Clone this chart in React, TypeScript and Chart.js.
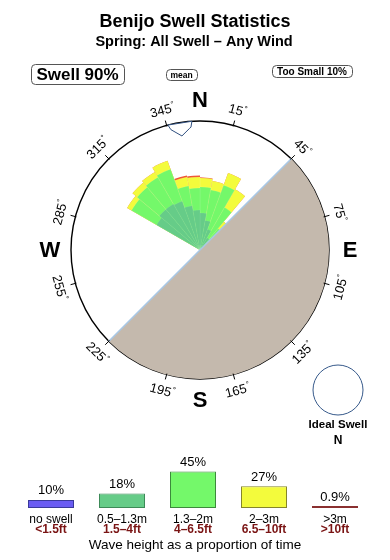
import React, { useEffect, useRef } from 'react';
import { Chart, registerables } from 'chart.js';

Chart.register(...registerables);

const FONT = '"Liberation Sans", Arial, Helvetica, sans-serif';

// ---- Swell rose data (10° direction bins, bin start in degrees clockwise from N) ----
const binStarts = [300, 310, 320, 330, 340, 350, 0, 10, 20, 30, 40];
const h05to13 = [38.8, 41.1, 41.1, 40.3, 34.9, 31.0, 28.7, 23.3, 17.1, 10.9, 6.2];
const h13to2 = [22.5, 22.5, 24.0, 26.4, 15.5, 17.1, 20.2, 24.0, 36.4, 27.1, 15.5];
const h2to3 = [3.9, 4.7, 4.7, 7.0, 7.0, 8.5, 7.0, 7.0, 10.1, 16.3, 7.0];
const hOver3 = [0, 0, 0, 0, 1.2, 1.2, 0.4, 0, 0, 0, 0];
const roseMax = 100;
const landFrom = 45;
const landTo = 225;
const meanDir = 351;
const degreeTicks = [15, 45, 75, 105, 135, 165, 195, 225, 255, 285, 315, 345];
const compassLabels = ['N', 'E', 'S', 'W'];
const compassDirs = [0, 90, 180, 270];

// ---- Wave height legend ----
const classLabels = ['no swell', '0.5–1.3m', '1.3–2m', '2–3m', '>3m'];
const classFeet = ['<1.5ft', '1.5–4ft', '4–6.5ft', '6.5–10ft', '>10ft'];
const classPct = [10, 18, 45, 27, 0.9];
const classPctText = ['10%', '18%', '45%', '27%', '0.9%'];

const title = 'Benijo Swell Statistics';
const subtitle = 'Spring: All Swell – Any Wind';
const swellText = 'Swell 90%';
const tooSmallText = 'Too Small 10%';

const BIN_COUNT = 36;
const series = [h05to13, h13to2, h2to3, hOver3];

function cumulative(level: number): number[] {
  const arr = new Array(BIN_COUNT).fill(0);
  binStarts.forEach((b, i) => {
    let s = 0;
    for (let j = 0; j <= level; j++) s += series[j][i];
    arr[Math.round(b / 10) % BIN_COUNT] = s;
  });
  return arr;
}

const landData = [0, roseMax, 0];
const landAngles = [landFrom, landTo - landFrom, 360 - landTo];

const roseDecor = {
  id: 'roseDecor',
  afterDatasetsDraw(chart: any) {
    const r = chart.scales.r;
    const ctx = chart.ctx;
    const cx = r.xCenter, cy = r.yCenter, R = r.drawingArea;
    const pt = (deg: number, rad: number) => {
      const a = ((deg - 90) * Math.PI) / 180;
      return [cx + rad * Math.cos(a), cy + rad * Math.sin(a)];
    };
    ctx.save();
    // coastline
    ctx.strokeStyle = '#a8c8e6';
    ctx.lineWidth = 1.5;
    const p1 = pt(landFrom, R), p2 = pt(landTo, R);
    ctx.beginPath();
    ctx.moveTo(p1[0], p1[1]);
    ctx.lineTo(p2[0], p2[1]);
    ctx.stroke();
    // mean direction arrow
    const shape = [[-5.4, 1.0], [-4.6, 0.96], [0, 0.895], [4.0, 0.945], [4.8, 0.955], [5.4, 1.0]];
    ctx.beginPath();
    shape.forEach(([da, f], i) => {
      const p = pt(meanDir + da, R * f);
      if (i === 0) ctx.moveTo(p[0], p[1]);
      else ctx.lineTo(p[0], p[1]);
    });
    ctx.closePath();
    ctx.fillStyle = '#ffffff';
    ctx.fill();
    ctx.strokeStyle = '#2f4f7f';
    ctx.lineWidth = 1;
    ctx.stroke();
    ctx.restore();
  },
  afterDraw(chart: any) {
    const r = chart.scales.r;
    const ctx = chart.ctx;
    const cx = r.xCenter, cy = r.yCenter, R = r.drawingArea;
    const W = chart.width;
    const pt = (deg: number, rad: number) => {
      const a = ((deg - 90) * Math.PI) / 180;
      return [cx + rad * Math.cos(a), cy + rad * Math.sin(a)];
    };
    ctx.save();
    // tick marks
    ctx.strokeStyle = '#000';
    ctx.lineWidth = 1;
    degreeTicks.forEach((d) => {
      const a = pt(d, R - 1), b = pt(d, R + 5);
      ctx.beginPath();
      ctx.moveTo(a[0], a[1]);
      ctx.lineTo(b[0], b[1]);
      ctx.stroke();
    });
    // degree labels
    ctx.fillStyle = '#000';
    degreeTicks.forEach((d) => {
      const p = pt(d, R + 16);
      const rot = (((d + 90) % 180) - 90) * Math.PI / 180;
      ctx.save();
      ctx.translate(p[0], p[1]);
      ctx.rotate(rot);
      ctx.font = `13px ${FONT}`;
      const txt = String(d);
      const w = ctx.measureText(txt).width;
      const total = w + 3.5;
      ctx.textAlign = 'left';
      ctx.textBaseline = 'alphabetic';
      ctx.fillText(txt, -total / 2, 4.6);
      ctx.font = `8px ${FONT}`;
      ctx.fillText('°', -total / 2 + w + 0.5, -0.5);
      ctx.restore();
    });
    // compass letters
    ctx.font = `bold 22px ${FONT}`;
    ctx.textAlign = 'center';
    ctx.textBaseline = 'middle';
    compassLabels.forEach((l, i) => {
      const p = pt(compassDirs[i], R + 21);
      ctx.fillText(l, p[0], p[1] + 1);
    });
    // titles
    ctx.textBaseline = 'alphabetic';
    ctx.font = `bold 18px ${FONT}`;
    ctx.fillText(title, W / 2, 26.5);
    ctx.font = `bold 14.5px ${FONT}`;
    ctx.fillText(subtitle, W / 2 - 1, 46);
    // boxes
    const box = (x: number, y: number, w: number, h: number, rad: number) => {
      ctx.beginPath();
      ctx.roundRect(x + 0.5, y + 0.5, w, h, rad);
      ctx.fillStyle = '#fff';
      ctx.fill();
      ctx.strokeStyle = '#555';
      ctx.lineWidth = 1;
      ctx.stroke();
      ctx.fillStyle = '#000';
    };
    box(31, 64, 93, 20, 4);
    ctx.font = `bold 17px ${FONT}`;
    ctx.fillText(swellText, 77.5, 80);
    box(166, 69, 31, 11, 4);
    ctx.font = `bold 8.5px ${FONT}`;
    ctx.fillText('mean', 181.5, 78);
    box(272, 65, 80, 12, 4);
    ctx.font = `bold 10px ${FONT}`;
    ctx.fillText(tooSmallText, 312, 75);
    // ideal swell
    ctx.beginPath();
    ctx.arc(338, 390, 25, 0, Math.PI * 2);
    ctx.strokeStyle = '#36598a';
    ctx.lineWidth = 1;
    ctx.stroke();
    ctx.font = `bold 11.5px ${FONT}`;
    ctx.fillText('Ideal Swell', 338, 428);
    ctx.font = `bold 12px ${FONT}`;
    ctx.fillText('N', 338, 443.5);
    ctx.restore();
  },
};

const legendText = {
  id: 'legendText',
  afterDraw(chart: any) {
    const ctx = chart.ctx;
    const meta = chart.getDatasetMeta(0);
    const base = chart.scales.y.getPixelForValue(0);
    ctx.save();
    ctx.textAlign = 'center';
    ctx.textBaseline = 'alphabetic';
    meta.data.forEach((bar: any, i: number) => {
      ctx.fillStyle = '#000';
      ctx.font = `13px ${FONT}`;
      ctx.fillText(classPctText[i], bar.x, bar.y - 5.5);
      ctx.font = `12px ${FONT}`;
      ctx.fillText(classLabels[i], bar.x, base + 14.5);
      ctx.fillStyle = '#7a1414';
      ctx.font = `bold 12px ${FONT}`;
      ctx.fillText(classFeet[i], bar.x, base + 25);
    });
    ctx.fillStyle = '#000';
    ctx.font = `13.5px ${FONT}`;
    ctx.fillText('Wave height as a proportion of time', chart.width / 2, base + 41);
    ctx.restore();
  },
};

export default function App() {
  const roseRef = useRef<HTMLCanvasElement | null>(null);
  const barRef = useRef<HTMLCanvasElement | null>(null);

  useEffect(() => {
    const rose = new Chart(roseRef.current as HTMLCanvasElement, {
      type: 'polarArea',
      data: {
        labels: new Array(BIN_COUNT).fill(''),
        datasets: [
          {
            label: 'land',
            data: landData,
            backgroundColor: '#c4b9ad',
            borderWidth: 0,
            order: 0,
            angle: (c: any) => landAngles[c.dataIndex],
          } as any,
          {
            label: '0.5–1.3m',
            data: cumulative(0),
            backgroundColor: '#66cc88',
            borderColor: 'rgba(255,255,255,0.12)',
            borderWidth: 0.5,
            order: 1,
          },
          {
            label: '1.3–2m',
            data: cumulative(1),
            backgroundColor: '#74f86a',
            borderColor: 'rgba(255,255,255,0.18)',
            borderWidth: 0.5,
            order: 2,
          },
          {
            label: '2–3m',
            data: cumulative(2),
            backgroundColor: '#f3fb3c',
            borderColor: 'rgba(255,255,255,0.18)',
            borderWidth: 0.5,
            order: 3,
          },
          {
            label: '>3m',
            data: cumulative(3),
            backgroundColor: '#ee5533',
            borderWidth: 0,
            order: 4,
          },
        ],
      },
      options: {
        responsive: false,
        animation: false,
        layout: { padding: { left: 71, right: 61, top: 121, bottom: 181 } },
        scales: {
          r: {
            min: 0,
            max: roseMax,
            startAngle: 0,
            z: 1,
            ticks: { display: false, stepSize: roseMax },
            grid: { color: '#000', lineWidth: 1.4, circular: true },
            angleLines: { display: false },
            pointLabels: { display: false },
          },
        },
        plugins: { legend: { display: false }, tooltip: { enabled: false } },
      },
      plugins: [roseDecor],
    } as any);

    const bars = new Chart(barRef.current as HTMLCanvasElement, {
      type: 'bar',
      data: {
        labels: classLabels,
        datasets: [
          {
            data: classPct,
            backgroundColor: ['#6a5cf2', '#66cc88', '#74f86a', '#f3fb3c', '#b04848'],
            borderColor: ['#3a3a9a', '#3d8a58', '#3c8a3c', '#85852a', '#8a3030'],
            borderWidth: 1,
            borderSkipped: false,
            barPercentage: 0.648,
            categoryPercentage: 1,
            minBarLength: 2,
          },
        ],
      },
      options: {
        responsive: false,
        animation: false,
        layout: { padding: { left: 15.5, right: 19.5, top: 27.5, bottom: 52 } },
        scales: {
          x: { display: false },
          y: { display: false, min: 0, max: 50 },
        },
        plugins: { legend: { display: false }, tooltip: { enabled: false } },
      },
      plugins: [legendText],
    } as any);

    return () => {
      rose.destroy();
      bars.destroy();
    };
  }, []);

  return (
    <div style={{ position: 'fixed', left: 0, top: 0, width: 390, height: 560, background: '#fff' }}>
      <canvas ref={roseRef} width={390} height={560} style={{ position: 'absolute', left: 0, top: 0 }} />
      <canvas ref={barRef} width={390} height={120} style={{ position: 'absolute', left: 0, top: 440 }} />
    </div>
  );
}
